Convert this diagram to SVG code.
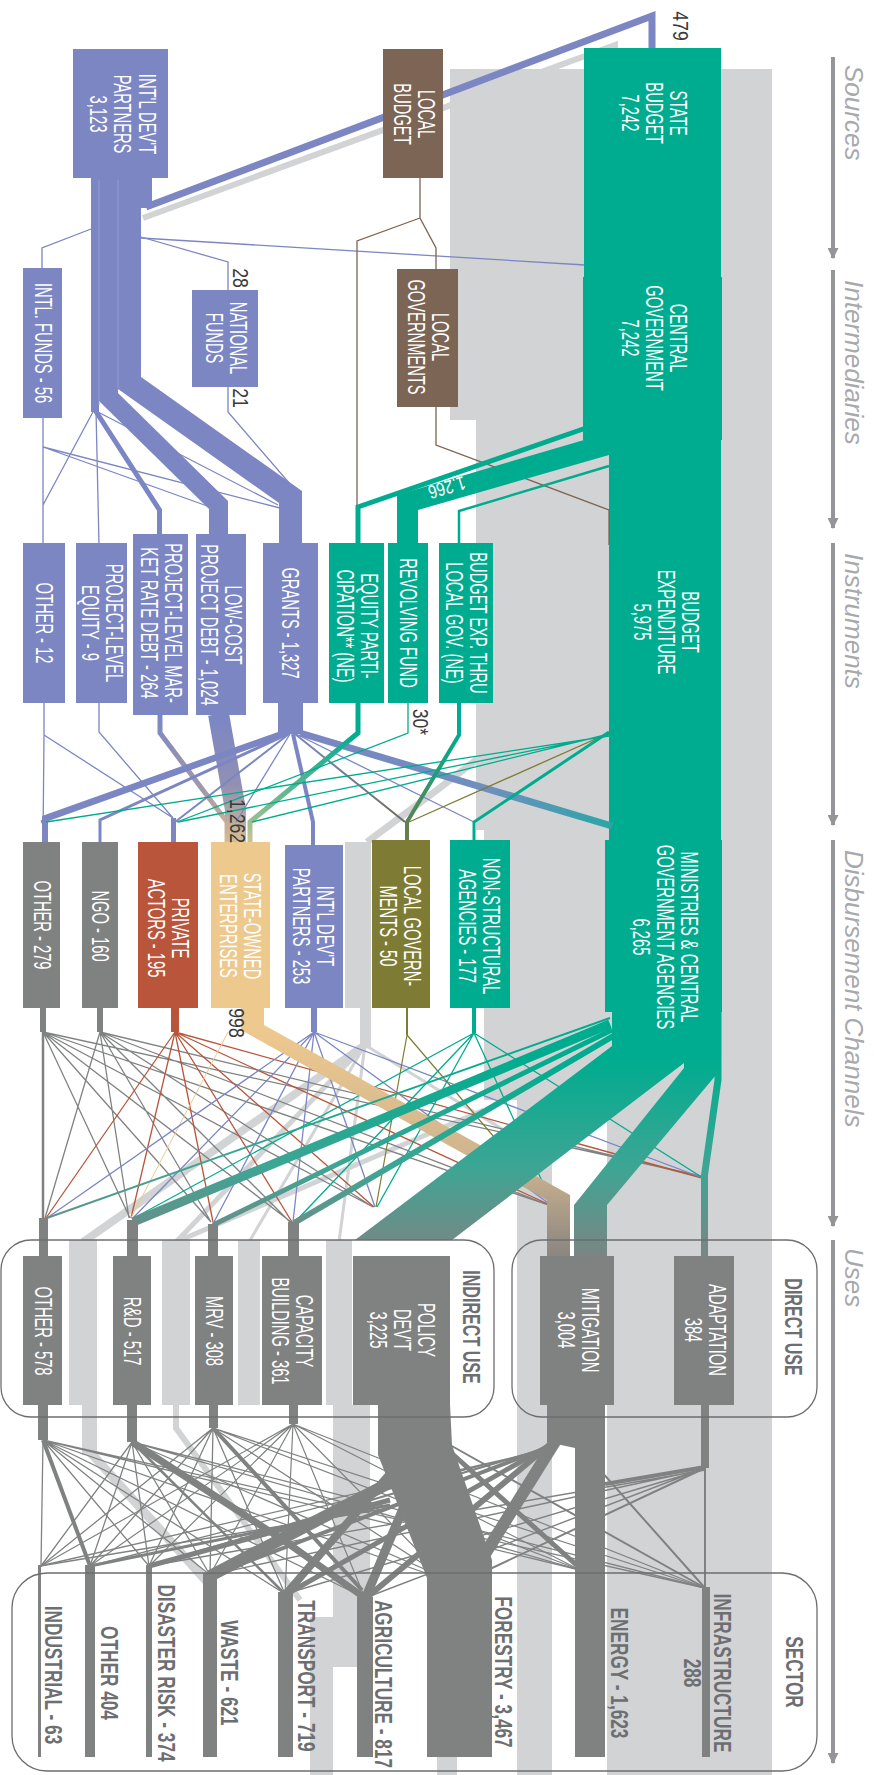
<svg xmlns="http://www.w3.org/2000/svg" width="874" height="1775" viewBox="0 0 874 1775">
<defs>
<style>
.l{font-family:"Liberation Sans",Arial,sans-serif;font-size:23px;fill:#fff;text-anchor:middle}
.s{font-family:"Liberation Sans",Arial,sans-serif;font-size:23px;font-weight:bold;fill:#6d6e71;text-anchor:middle}
.a{font-family:"Liberation Sans",Arial,sans-serif;font-size:26px;font-style:italic;fill:#a7a9ac}
.n{font-family:"Liberation Sans",Arial,sans-serif;font-size:22px;fill:#3a3a3a;text-anchor:middle}
.pu{stroke:#7b86c3;fill:none}.te{stroke:#00ac8f;fill:none}.br{stroke:#7c6555;fill:none}.gy{stroke:#808282;fill:none}.rd{stroke:#b8553a;fill:none}.ol{stroke:#7e7c34;fill:none}.tn{stroke:#eec98e;fill:none}.gh{stroke:#d1d3d4;fill:none}
.fp{fill:#7b86c3}.ft{fill:#00ac8f}.fb{fill:#7c6555}.fg{fill:#808282}.fr{fill:#b8553a}.fn{fill:#eec98e}.fo{fill:#7e7c34}
.box{fill:none;stroke:#6d6e71;stroke-width:1.3}
.ax{stroke:#939598;stroke-width:4;fill:none}
</style>
<linearGradient id="gLC" gradientUnits="userSpaceOnUse" x1="0" y1="715" x2="0" y2="843"><stop offset="0" stop-color="#7b86c3"/><stop offset="0.55" stop-color="#9290b4"/><stop offset="1" stop-color="#d8bd8f"/></linearGradient>
<linearGradient id="gMT" gradientUnits="userSpaceOnUse" x1="0" y1="715" x2="0" y2="842"><stop offset="0" stop-color="#7b86c3"/><stop offset="0.6" stop-color="#a39aa8"/><stop offset="1" stop-color="#e0c190"/></linearGradient>
<linearGradient id="gTS" gradientUnits="userSpaceOnUse" x1="0" y1="733" x2="0" y2="842"><stop offset="0" stop-color="#00ac8f"/><stop offset="0.6" stop-color="#6db98f"/><stop offset="1" stop-color="#c9c48f"/></linearGradient>
<linearGradient id="gTO" gradientUnits="userSpaceOnUse" x1="0" y1="733" x2="0" y2="842"><stop offset="0" stop-color="#00ac8f"/><stop offset="1" stop-color="#6f7a45"/></linearGradient>
<linearGradient id="gPO" gradientUnits="userSpaceOnUse" x1="0" y1="734" x2="0" y2="822"><stop offset="0" stop-color="#7b86c3"/><stop offset="1" stop-color="#6d6d5c"/></linearGradient>
<linearGradient id="gPT" gradientUnits="userSpaceOnUse" x1="300" y1="0" x2="612" y2="0"><stop offset="0" stop-color="#7b86c3"/><stop offset="0.6" stop-color="#6f8fbf"/><stop offset="1" stop-color="#2aa6a6"/></linearGradient>
<linearGradient id="gTG" gradientUnits="userSpaceOnUse" x1="0" y1="1060" x2="0" y2="1256"><stop offset="0" stop-color="#00ac8f"/><stop offset="0.55" stop-color="#3ea594"/><stop offset="1" stop-color="#7b8583"/></linearGradient>
<linearGradient id="gNG" gradientUnits="userSpaceOnUse" x1="0" y1="1030" x2="0" y2="1256"><stop offset="0" stop-color="#eec98e"/><stop offset="0.6" stop-color="#cdb38e"/><stop offset="1" stop-color="#8a8680"/></linearGradient>
<marker id="ah" viewBox="0 0 10 10" refX="9" refY="5" markerWidth="11" markerHeight="11" markerUnits="userSpaceOnUse" orient="auto"><path d="M0,0 L10,5 L0,10 z" fill="#939598"/></marker>
</defs>
<rect width="874" height="1775" fill="#fff"/>

<g id="ghost" fill="#d1d3d4">
<rect x="450" y="69" width="322" height="351"/>
<rect x="476" y="420" width="296" height="410"/>
<rect x="484" y="830" width="288" height="270"/>
<rect x="607" y="1100" width="165" height="675"/>
<rect x="517" y="1100" width="35" height="675"/>
<rect x="345" y="842" width="26" height="166"/>
<rect x="360" y="1008" width="11" height="40"/>
<rect x="69" y="1240" width="28" height="165"/>
<rect x="162" y="1240" width="28" height="165"/>
<rect x="238" y="1240" width="22" height="165"/>
<rect x="326" y="1240" width="26" height="165"/>
<rect x="333" y="1405" width="37" height="262"/>
<rect x="310" y="1617" width="23" height="158"/>
<rect x="437" y="1757" width="20" height="18"/>
<rect x="82" y="1405" width="15" height="50"/>
</g>
<g id="ghost-lines" class="gh">
<polyline points="143,218 615,45 615,72" stroke-width="6"/>
<polyline points="480,700 480,757 437,790 367,842" stroke-width="7"/>
<path d="M365,1045L83,1242" stroke-width="8"/>
<path d="M365,1045L176,1242M484,1110L176,1242" stroke-width="5"/>
<path d="M365,1045L249,1242M365,1045L339,1242M365,1045L520,1140" stroke-width="3"/>
<path d="M90,1452L210,1585" stroke-width="9"/>
<path d="M176,1405L176,1428L300,1600" stroke-width="6"/>
</g>

<g id="connectors">
<!-- teal trunk -->
<rect class="ft" x="609" y="438" width="112" height="105"/>
<rect class="ft" x="609" y="703" width="112" height="137"/>
<!-- sources to intermediaries -->
<polyline class="pu" points="95,178 95,412" stroke-width="8"/>
<polyline class="pu" points="108.5,178 108.5,397 218.5,505 218.5,536" stroke-width="19"/>
<polyline class="pu" points="129.5,178 129.5,383 290.5,497 290.5,545" stroke-width="23"/>
<rect class="fp" x="141" y="178" width="11" height="30"/>
<polyline class="pu" points="146,207 652,16 652,50" stroke-width="7"/>
<path d="M99,180V405M118,180V388" stroke="#959ed2" stroke-width="1"/>
<polyline class="pu" points="91,229 42,248 42,270" stroke-width="1.3"/>
<polyline class="pu" points="141,237 228,262 228,292" stroke-width="1.3"/>
<polyline class="pu" points="141,238 585,265" stroke-width="1.3"/>
<polyline class="br" points="420,178 420,218 436,248 436,270" stroke-width="1.3"/>
<polyline class="br" points="420,218 357,241 357,508" stroke-width="1.3"/>
<polyline class="br" points="436,407 436,445 609,510 609,545" stroke-width="1.3"/>
<!-- intermediaries to instruments -->
<path class="pu" stroke-width="1.3" d="M43,418L43,545M43,447L280,508M43,447L210,507M94,410L43,505M96,410L99,545M96,411L278,505"/>
<polyline class="pu" points="95,410 159.5,510 159.5,536" stroke-width="5"/>
<polyline class="pu" points="228,387 228,412 297,492 297,545" stroke-width="1.3"/>
<polyline class="te" points="358,545 358,507 586,428" stroke-width="5"/>
<polygon class="ft" points="397,545 397,495 584,440 609,438 609,455 418,510 418,545"/>
<polyline class="te" points="459,545 459,511 609,466" stroke-width="2.5"/>
<!-- instruments to disbursement -->
<path class="pu" stroke-width="1.3" d="M44,703L44,735L43,842M44,735L173,818M99,703L99,732L173,818"/>
<polyline stroke="url(#gMT)" fill="none" points="160,715 160,733 227,822 227,842" stroke-width="5"/>
<polyline stroke="url(#gLC)" fill="none" points="218.5,714 235.5,810 235.5,843" stroke-width="21"/>
<rect class="fp" x="278" y="703" width="25" height="31"/>
<polyline class="pu" points="284,733 45,818 45,842" stroke-width="6"/>
<path class="pu" stroke-width="3" d="M287,734L41,822M288,734L100,820L100,842"/>
<path class="pu" stroke-width="2" d="M289,734L175,822"/>
<path class="pu" stroke-width="1.3" d="M290,734L236,822M296,734L474,822"/>
<polyline class="pu" points="293,734 313,822 313,845" stroke-width="4"/>
<polyline stroke="url(#gPO)" fill="none" points="295,734 405,822" stroke-width="2"/>
<polyline stroke="url(#gPT)" fill="none" points="300,733 612,826" stroke-width="7"/>
<polyline stroke="url(#gTS)" fill="none" points="358,703 358,733 250,822 250,842" stroke-width="5"/>
<polyline class="te" points="408,703 408,733 177,822" stroke-width="1.3"/>
<polyline stroke="url(#gTO)" fill="none" points="459,703 459,735 407,822 407,842" stroke-width="4"/>
<polyline class="te" points="609,732 474,822 474,842" stroke-width="3"/>
<path class="ol" stroke-width="1.3" d="M609,733L409,822"/>
<path class="te" stroke-width="1.3" d="M609,734L252,822M609,735L178,822M609,736L46,822"/>
<rect class="fp" x="171" y="818" width="5" height="24"/>
<!-- disbursement to uses -->
<rect class="fg" x="40" y="1008" width="6" height="24"/>
<rect class="fg" x="97" y="1008" width="6" height="24"/>
<rect class="fr" x="171" y="1008" width="8" height="24"/>
<rect class="fp" x="311" y="1008" width="6" height="24"/>
<rect class="fo" x="406" y="1008" width="2" height="27"/>
<rect class="ft" x="472" y="1008" width="4" height="25"/>
<path class="gy" stroke-width="2.5" d="M43,1032L43,1218"/>
<path class="gy" stroke-width="1.3" d="M43,1032L130,1218M43,1032L211,1222M43,1032L291,1222M43,1032L373,1207M43,1032L548,1205M43,1032L701,1176M100,1032L45,1218M100,1032L129,1218M100,1032L211,1222M100,1032L290,1222M100,1032L373,1207M100,1032L549,1205M100,1032L701,1177"/>
<path class="rd" stroke-width="1.3" d="M175,1032L46,1218M175,1032L131,1218M175,1032L213,1222M175,1032L292,1222M175,1032L374,1207M175,1032L550,1205M175,1032L702,1178"/>
<path class="tn" stroke-width="1" d="M228,1032L131,1218"/>
<path class="pu" stroke-width="1.3" d="M314,1032L47,1218M314,1032L133,1218M314,1032L214,1222M314,1032L293,1222M314,1032L375,1207M314,1032L551,1205M314,1032L703,1178"/>
<path class="ol" stroke-width="1.2" d="M407,1035L376,1207M407,1035L552,1205"/>
<path class="te" stroke-width="1.3" d="M474,1033L134,1218M474,1033L295,1222M474,1033L377,1207M474,1033L553,1205M474,1033L703,1178"/>
<polygon fill="url(#gNG)" points="241,1008 264,1008 264,1025 570,1195 570,1258 547,1258 547,1200 241,1030"/>
<polygon fill="url(#gTG)" points="612,1005 684,1005 684,1063 452,1240 355,1240 612,1046"/>
<polygon fill="url(#gTG)" points="684,1005 716,1005 716,1075 607,1205 607,1258 574,1258 574,1205 684,1068"/>
<polyline stroke="url(#gTG)" fill="none" points="718,1005 718,1080 704.5,1175 704.5,1258" stroke-width="7"/>
<path stroke="url(#gTG)" fill="none" stroke-width="2" d="M610,1018L47,1218"/>
<path stroke="url(#gTG)" fill="none" stroke-width="9" d="M610,1024L133,1222"/>
<path stroke="url(#gTG)" fill="none" stroke-width="5" d="M612,1030L213,1225"/>
<path stroke="url(#gTG)" fill="none" stroke-width="6" d="M615,1035L294,1223"/>
<rect class="fg" x="39" y="1218" width="9" height="38"/>
<rect class="fg" x="127" y="1220" width="11" height="36"/>
<rect class="fg" x="208" y="1224" width="10" height="32"/>
<rect class="fg" x="288" y="1222" width="11" height="34"/>
<!-- uses to sector -->
<polygon class="fg" points="378,1404 450,1404 452,1445 492,1560 492,1757 427,1757 427,1578 378,1455"/>
<rect class="fg" x="575" y="1404" width="30" height="353"/>
<polygon class="fg" points="547,1404 575,1404 575,1448 547,1442"/>
<rect class="fg" x="38" y="1404" width="10" height="36"/>
<rect class="fg" x="127" y="1404" width="10" height="38"/>
<rect class="fg" x="209" y="1404" width="9" height="24"/>
<rect class="fg" x="289" y="1404" width="9" height="20"/>
<rect class="fg" x="701" y="1404" width="8" height="64"/>
<path class="gy" stroke-width="4" d="M43,1440L90,1566"/>
<path class="gy" stroke-width="1.3" d="M43,1440L41,1566M43,1440L149,1566M43,1440L210,1575M43,1440L285,1594M43,1440L365,1598M43,1440L440,1578M43,1440L580,1570M43,1440L705,1588"/>
<polyline class="gy" points="132,1442 283,1540 365,1598" stroke-width="7"/>
<path class="gy" stroke-width="2.5" d="M132,1442L285,1594"/>
<path class="gy" stroke-width="1.3" d="M132,1442L41,1566M132,1442L90,1566M132,1442L149,1566M132,1442L210,1575M132,1442L445,1578M132,1442L580,1570M132,1442L705,1588"/>
<path class="gy" stroke-width="4" d="M213,1428L362,1590"/>
<path class="gy" stroke-width="1.3" d="M213,1428L41,1566M213,1428L90,1566M213,1428L149,1566M213,1428L210,1575M213,1428L285,1594M213,1428L445,1578M213,1428L580,1570M213,1428L705,1588"/>
<path class="gy" stroke-width="1.2" d="M293,1424L41,1566M293,1424L90,1566M293,1424L149,1566M293,1424L210,1575M293,1424L285,1594M293,1424L365,1598M293,1424L445,1578M293,1424L580,1570M293,1424L705,1588"/>
<path class="gy" stroke-width="12" d="M395,1480L210,1576"/>
<path class="gy" stroke-width="8" d="M400,1462L285,1595"/>
<path class="gy" stroke-width="9" d="M415,1480L365,1599"/>
<path class="gy" stroke-width="5" d="M390,1500L149,1566M448,1450L582,1570"/>
<path class="gy" stroke-width="3" d="M390,1505L90,1566"/>
<path class="gy" stroke-width="1.5" d="M390,1508L40,1566"/>
<path class="gy" stroke-width="2" d="M450,1445L705,1588"/>
<path class="gy" stroke-width="12" d="M556,1440L470,1578"/>
<path class="gy" stroke-width="6" d="M553,1442L365,1599"/>
<path class="gy" stroke-width="5" d="M552,1444L285,1595"/>
<path class="gy" stroke-width="4" d="M551,1446L210,1576"/>
<path class="gy" stroke-width="2" d="M550,1447L149,1566M600,1470L705,1588"/>
<path class="gy" stroke-width="1.3" d="M550,1448L90,1566M550,1449L40,1566"/>
<path class="gy" stroke-width="4" d="M705,1467L605,1484"/>
<path class="gy" stroke-width="2" d="M705,1467L705,1588M705,1468L475,1576"/>
<path class="gy" stroke-width="1.4" d="M705,1468L365,1598M705,1469L285,1594M705,1469L210,1575M705,1470L149,1566"/>
</g>

<g id="sectors">
<rect class="fg" x="38" y="1565" width="3" height="192"/>
<rect class="fg" x="85" y="1565" width="10" height="192"/>
<rect class="fg" x="146" y="1565" width="6" height="192"/>
<rect class="fg" x="203" y="1573" width="14" height="184"/>
<rect class="fg" x="278" y="1592" width="15" height="165"/>
<rect class="fg" x="357" y="1597" width="16" height="160"/>
<rect class="fg" x="702" y="1587" width="8" height="170"/>
<text class="s" transform="translate(53,1675) rotate(90) scale(0.75,1)" y="8">INDUSTRIAL - 63</text>
<text class="s" transform="translate(109,1673) rotate(90) scale(0.75,1)" y="8">OTHER 404</text>
<text class="s" transform="translate(166,1673) rotate(90) scale(0.75,1)" y="8">DISASTER RISK - 374</text>
<text class="s" transform="translate(229,1673) rotate(90) scale(0.75,1)" y="8">WASTE - 621</text>
<text class="s" transform="translate(306,1676) rotate(90) scale(0.75,1)" y="8">TRANSPORT - 719</text>
<text class="s" transform="translate(383,1684) rotate(90) scale(0.75,1)" y="8">AGRICULTURE - 817</text>
<text class="s" transform="translate(503,1672) rotate(90) scale(0.75,1)" y="8">FORESTRY - 3,467</text>
<text class="s" transform="translate(619,1673) rotate(90) scale(0.75,1)" y="8">ENERGY - 1,623</text>
<text class="s" transform="translate(707,1673) rotate(90) scale(0.75,1)"><tspan x="0" y="-7">INFRASTRUCTURE</tspan><tspan x="0" y="23">288</tspan></text>
<text class="s" transform="translate(794,1672) rotate(90) scale(0.75,1)" y="8">SECTOR</text>
</g>

<g id="n-intl-partners"><rect class="fp" x="73" y="49" width="95" height="129"/><text class="l" transform="translate(122.5,114) rotate(90) scale(0.64,1)"><tspan x="0" y="-16.5">INT'L DEV'T</tspan><tspan x="0" y="8">PARTNERS</tspan><tspan x="0" y="32.5">3,123</tspan></text></g>
<g id="n-local-budget"><rect class="fb" x="383" y="49" width="60" height="129"/><text class="l" transform="translate(414,114) rotate(90) scale(0.64,1)"><tspan x="0" y="-4">LOCAL</tspan><tspan x="0" y="20.5">BUDGET</tspan></text></g>
<g id="n-state-budget"><rect class="ft" x="584" y="48" width="137" height="229"/><text class="l" transform="translate(654,113) rotate(90) scale(0.64,1)"><tspan x="0" y="-16.5">STATE</tspan><tspan x="0" y="8">BUDGET</tspan><tspan x="0" y="32.5">7,242</tspan></text></g>
<g id="n-intl-funds"><rect class="fp" x="23" y="268" width="39" height="150"/><text class="l" transform="translate(43,343) rotate(90) scale(0.64,1)" y="8">INTL. FUNDS - 56</text></g>
<g id="n-national-funds"><rect class="fp" x="192" y="290" width="66" height="97"/><text class="l" transform="translate(226,338) rotate(90) scale(0.64,1)"><tspan x="0" y="-4">NATIONAL</tspan><tspan x="0" y="20.5">FUNDS</tspan></text></g>
<g id="n-local-governments"><rect class="fb" x="397" y="269" width="61" height="138"/><text class="l" transform="translate(428,337) rotate(90) scale(0.64,1)"><tspan x="0" y="-4">LOCAL</tspan><tspan x="0" y="20.5">GOVERNMENTS</tspan></text></g>
<g id="n-central-government"><rect class="ft" x="583" y="277" width="139" height="163"/><text class="l" transform="translate(654,338) rotate(90) scale(0.64,1)"><tspan x="0" y="-16.5">CENTRAL</tspan><tspan x="0" y="8">GOVERNMENT</tspan><tspan x="0" y="32.5">7,242</tspan></text></g>

<g id="n-other-12"><rect class="fp" x="23" y="543" width="42" height="160"/><text class="l" transform="translate(44,623) rotate(90) scale(0.64,1)" y="8">OTHER - 12</text></g>
<g id="n-project-equity"><rect class="fp" x="76" y="543" width="51" height="160"/><text class="l" transform="translate(102,623) rotate(90) scale(0.64,1)"><tspan x="0" y="-4">PROJECT-LEVEL</tspan><tspan x="0" y="20.5">EQUITY - 9</tspan></text></g>
<g id="n-market-debt"><rect class="fp" x="133" y="534" width="55" height="181"/><text class="l" transform="translate(161,623) rotate(90) scale(0.64,1)"><tspan x="0" y="-4">PROJECT-LEVEL MAR-</tspan><tspan x="0" y="20.5">KET RATE DEBT - 264</tspan></text></g>
<g id="n-low-cost-debt"><rect class="fp" x="196" y="534" width="50" height="181"/><text class="l" transform="translate(221.5,625) rotate(90) scale(0.64,1)"><tspan x="0" y="-4">LOW-COST</tspan><tspan x="0" y="20.5">PROJECT DEBT - 1,024</tspan></text></g>
<g id="n-grants"><rect class="fp" x="263" y="543" width="55" height="160"/><text class="l" transform="translate(290,623) rotate(90) scale(0.64,1)" y="8">GRANTS - 1,327</text></g>
<g id="n-equity-participation"><rect class="ft" x="329" y="543" width="55" height="160"/><text class="l" transform="translate(357,626) rotate(90) scale(0.64,1)"><tspan x="0" y="-4">EQUITY PARTI-</tspan><tspan x="0" y="20.5">CIPATION** (NE)</tspan></text></g>
<g id="n-revolving-fund"><rect class="ft" x="388" y="543" width="40" height="160"/><text class="l" transform="translate(408,623) rotate(90) scale(0.64,1)" y="8">REVOLVING FUND</text></g>
<g id="n-budget-local"><rect class="ft" x="439" y="543" width="54" height="160"/><text class="l" transform="translate(466,623) rotate(90) scale(0.64,1)"><tspan x="0" y="-4">BUDGET EXP. THRU</tspan><tspan x="0" y="20.5">LOCAL GOV. (NE)</tspan></text></g>
<g id="n-budget-expenditure"><rect class="ft" x="609" y="543" width="112" height="160"/><text class="l" transform="translate(666,622) rotate(90) scale(0.64,1)"><tspan x="0" y="-16.5">BUDGET</tspan><tspan x="0" y="8">EXPENDITURE</tspan><tspan x="0" y="32.5">5,975</tspan></text></g>

<g id="n-other-279"><rect class="fg" x="23" y="842" width="37" height="166"/><text class="l" transform="translate(42,925) rotate(90) scale(0.64,1)" y="8">OTHER - 279</text></g>
<g id="n-ngo"><rect class="fg" x="82" y="842" width="36" height="166"/><text class="l" transform="translate(100,926) rotate(90) scale(0.64,1)" y="8">NGO - 160</text></g>
<g id="n-private"><rect class="fr" x="138" y="842" width="60" height="166"/><text class="l" transform="translate(168,928) rotate(90) scale(0.64,1)"><tspan x="0" y="-4">PRIVATE</tspan><tspan x="0" y="20.5">ACTORS - 195</tspan></text></g>
<g id="n-soe"><rect class="fn" x="211" y="842" width="59" height="166"/><text class="l" transform="translate(240.5,926) rotate(90) scale(0.64,1)"><tspan x="0" y="-4">STATE-OWNED</tspan><tspan x="0" y="20.5">ENTERPRISES</tspan></text></g>
<g id="n-intl-partners-253"><rect class="fp" x="285" y="845" width="58" height="163"/><text class="l" transform="translate(313.5,926) rotate(90) scale(0.64,1)"><tspan x="0" y="-4">INT'L DEV'T</tspan><tspan x="0" y="20.5">PARTNERS - 253</tspan></text></g>
<g id="n-local-gov-50"><rect class="fo" x="372" y="840" width="58" height="168"/><text class="l" transform="translate(400,926) rotate(90) scale(0.64,1)"><tspan x="0" y="-4">LOCAL GOVERN-</tspan><tspan x="0" y="20.5">MENTS - 50</tspan></text></g>
<g id="n-non-structural"><rect class="ft" x="450" y="840" width="60" height="168"/><text class="l" transform="translate(479.5,926) rotate(90) scale(0.64,1)"><tspan x="0" y="-4">NON-STRUCTURAL</tspan><tspan x="0" y="20.5">AGENCIES - 177</tspan></text></g>
<g id="n-ministries"><rect class="ft" x="605" y="840" width="117" height="172"/><text class="l" transform="translate(665,937) rotate(90) scale(0.64,1)"><tspan x="0" y="-16.5">MINISTRIES &amp; CENTRAL</tspan><tspan x="0" y="8">GOVERNMENT AGENCIES</tspan><tspan x="0" y="32.5">6,265</tspan></text></g>

<g id="n-other-578"><rect class="fg" x="23" y="1256" width="39" height="149"/><text class="l" transform="translate(43,1331) rotate(90) scale(0.64,1)" y="8">OTHER - 578</text></g>
<g id="n-rd"><rect class="fg" x="113" y="1256" width="38" height="149"/><text class="l" transform="translate(132,1331) rotate(90) scale(0.64,1)" y="8">R&amp;D - 517</text></g>
<g id="n-mrv"><rect class="fg" x="195" y="1256" width="38" height="149"/><text class="l" transform="translate(214,1331) rotate(90) scale(0.64,1)" y="8">MRV - 308</text></g>
<g id="n-capacity"><rect class="fg" x="262" y="1256" width="60" height="149"/><text class="l" transform="translate(292.5,1331) rotate(90) scale(0.64,1)"><tspan x="0" y="-4">CAPACITY</tspan><tspan x="0" y="20.5">BUILDING - 361</tspan></text></g>
<g id="n-policy"><rect class="fg" x="353" y="1256" width="97" height="149"/><text class="l" transform="translate(402,1330) rotate(90) scale(0.64,1)"><tspan x="0" y="-16.5">POLICY</tspan><tspan x="0" y="8">DEV'T</tspan><tspan x="0" y="32.5">3,225</tspan></text></g>
<g id="n-mitigation"><rect class="fg" x="540" y="1256" width="74" height="149"/><text class="l" transform="translate(578,1330) rotate(90) scale(0.64,1)"><tspan x="0" y="-4">MITIGATION</tspan><tspan x="0" y="20.5">3,004</tspan></text></g>
<g id="n-adaptation"><rect class="fg" x="674" y="1256" width="60" height="149"/><text class="l" transform="translate(705,1330) rotate(90) scale(0.64,1)"><tspan x="0" y="-4">ADAPTATION</tspan><tspan x="0" y="20.5">384</tspan></text></g>

<g id="groups">
<rect class="box" x="1" y="1240" width="493" height="177" rx="30"/>
<rect class="box" x="512" y="1240" width="305" height="177" rx="30"/>
<rect class="box" x="12" y="1573" width="805" height="198" rx="35"/>
<text class="s" transform="translate(471,1327) rotate(90) scale(0.7,1)" y="8" fill="#58595b">INDIRECT USE</text>
<text class="s" transform="translate(793,1327) rotate(90) scale(0.7,1)" y="8">DIRECT USE</text>
</g>

<g id="values">
<text class="n" transform="translate(681,26) rotate(90) scale(0.8,1)" y="8">479</text>
<text class="n" transform="translate(241,278) rotate(90) scale(0.8,1)" y="8">28</text>
<text class="n" transform="translate(241,398) rotate(90) scale(0.8,1)" y="8">21</text>
<text class="n" transform="translate(421,722) rotate(90) scale(0.8,1)" y="8">30*</text>
<text class="n" transform="translate(238,821) rotate(90) scale(0.8,1)" y="8">1,262</text>
<text class="n" transform="translate(237,1023) rotate(90) scale(0.8,1)" y="8">998</text>
<text class="n" transform="translate(447,488) rotate(164) scale(0.8,1)" y="7" style="fill:#fff;font-size:19px">1,266</text>
</g>

<g id="axis">
<line class="ax" x1="833" y1="57" x2="833" y2="258" marker-end="url(#ah)"/>
<line class="ax" x1="833" y1="270" x2="833" y2="528" marker-end="url(#ah)"/>
<line class="ax" x1="833" y1="543" x2="833" y2="825" marker-end="url(#ah)"/>
<line class="ax" x1="833" y1="840" x2="833" y2="1226" marker-end="url(#ah)"/>
<line class="ax" x1="833" y1="1240" x2="833" y2="1763" marker-end="url(#ah)"/>
<text class="a" transform="translate(845,65) rotate(90)">Sources</text>
<text class="a" transform="translate(845,280) rotate(90)">Intermediaries</text>
<text class="a" transform="translate(845,553) rotate(90)">Instruments</text>
<text class="a" transform="translate(845,850) rotate(90)">Disbursement Channels</text>
<text class="a" transform="translate(845,1248) rotate(90)">Uses</text>
</g>
</svg>
